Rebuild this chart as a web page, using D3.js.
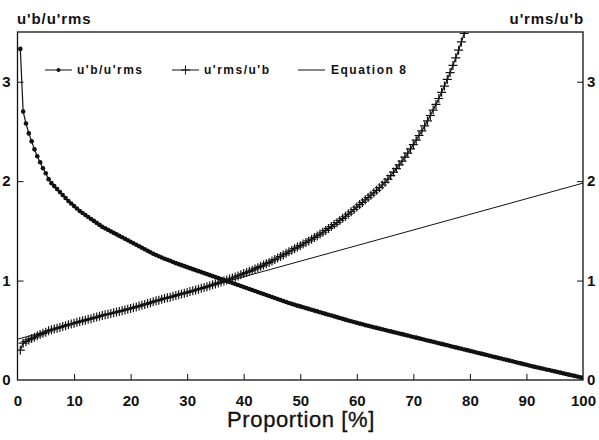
<!DOCTYPE html>
<html><head><meta charset="utf-8">
<script src="https://cdn.jsdelivr.net/npm/d3@7"></script>
<style>
body{margin:0;background:#fff}
svg{display:block}
text{font-family:"Liberation Sans",Arial,Helvetica,sans-serif;fill:#111}
</style>
</head><body>
<svg id="chart" width="599" height="440"></svg>
<script>
// ---- data ----
const proportion = [0.5,1,1.5,2,2.5,3,3.5,4,4.5,5,5.5,6,6.5,7,7.5,8,8.5,9,9.5,10,
10.5,11,11.5,12,12.5,13,13.5,14,14.5,15,15.5,16,16.5,17,17.5,18,18.5,19,19.5,20,
20.5,21,21.5,22,22.5,23,23.5,24,24.5,25,25.5,26,26.5,27,27.5,28,28.5,29,29.5,30,
30.5,31,31.5,32,32.5,33,33.5,34,34.5,35,35.5,36,36.5,37,37.5,38,38.5,39,39.5,40,
40.5,41,41.5,42,42.5,43,43.5,44,44.5,45,45.5,46,46.5,47,47.5,48,48.5,49,49.5,50,
50.5,51,51.5,52,52.5,53,53.5,54,54.5,55,55.5,56,56.5,57,57.5,58,58.5,59,59.5,60,
60.5,61,61.5,62,62.5,63,63.5,64,64.5,65,65.5,66,66.5,67,67.5,68,68.5,69,69.5,70,
70.5,71,71.5,72,72.5,73,73.5,74,74.5,75,75.5,76,76.5,77,77.5,78,78.5,79,79.5,80,
80.5,81,81.5,82,82.5,83,83.5,84,84.5,85,85.5,86,86.5,87,87.5,88,88.5,89,89.5,90,
90.5,91,91.5,92,92.5,93,93.5,94,94.5,95,95.5,96,96.5,97,97.5,98,98.5,99,99.5,100];

// u'b/u'rms
const ubOverUrms = [3.33,2.70,2.58,2.48,2.40,2.32,2.25,2.19,2.13,2.08,2.02,1.98,1.95,1.92,1.89,1.86,1.83,1.80,1.775,1.75,
1.725,1.70,1.68,1.66,1.64,1.62,1.60,1.58,1.56,1.54,1.525,1.51,1.495,1.48,1.465,1.45,1.435,1.42,1.405,1.39,
1.375,1.36,1.345,1.33,1.315,1.30,1.285,1.27,1.257,1.245,1.232,1.22,1.21,1.20,1.187,1.175,1.165,1.155,1.145,1.135,
1.125,1.115,1.105,1.095,1.085,1.075,1.065,1.055,1.045,1.035,1.025,1.015,1.005,0.995,0.985,0.975,0.965,0.955,0.945,0.935,
0.925,0.915,0.905,0.895,0.885,0.875,0.865,0.855,0.845,0.835,0.825,0.815,0.805,0.795,0.785,0.775,0.766,0.757,0.748,0.740,
0.731,0.723,0.715,0.706,0.698,0.690,0.681,0.673,0.665,0.656,0.648,0.640,0.632,0.623,0.615,0.607,0.599,0.591,0.583,0.575,
0.567,0.560,0.552,0.545,0.538,0.531,0.524,0.517,0.510,0.503,0.496,0.489,0.482,0.475,0.468,0.461,0.454,0.447,0.440,0.433,
0.426,0.419,0.412,0.405,0.398,0.391,0.384,0.377,0.370,0.363,0.356,0.349,0.342,0.335,0.328,0.321,0.314,0.307,0.300,0.293,
0.286,0.279,0.272,0.265,0.258,0.251,0.244,0.237,0.230,0.223,0.216,0.209,0.202,0.195,0.188,0.181,0.174,0.167,0.160,0.153,
0.146,0.139,0.132,0.126,0.119,0.113,0.106,0.100,0.093,0.087,0.080,0.074,0.067,0.061,0.054,0.048,0.041,0.035,0.028,0.022];

// u'rms/u'b (last points run past the frame top and are clipped)
const urmsOverUb = [0.30,0.37,0.388,0.403,0.417,0.431,0.444,0.457,0.469,0.481,0.495,0.505,0.513,0.521,0.529,0.538,0.546,0.556,0.563,0.571,
0.580,0.588,0.595,0.602,0.610,0.617,0.625,0.633,0.641,0.649,0.656,0.662,0.669,0.676,0.683,0.690,0.697,0.704,0.712,0.719,
0.727,0.735,0.743,0.752,0.760,0.769,0.778,0.787,0.796,0.803,0.812,0.820,0.826,0.833,0.842,0.851,0.858,0.866,0.873,0.881,
0.889,0.897,0.905,0.913,0.922,0.930,0.939,0.948,0.957,0.966,0.976,0.985,0.995,1.005,1.015,1.026,1.036,1.047,1.058,1.070,
1.081,1.093,1.105,1.117,1.130,1.143,1.156,1.170,1.183,1.198,1.212,1.227,1.242,1.258,1.274,1.290,1.305,1.321,1.337,1.351,
1.368,1.383,1.399,1.416,1.433,1.449,1.468,1.486,1.504,1.524,1.543,1.563,1.582,1.605,1.626,1.647,1.669,1.692,1.715,1.739,
1.764,1.786,1.812,1.835,1.859,1.883,1.908,1.934,1.961,1.988,2.021,2.055,2.091,2.126,2.164,2.202,2.242,2.282,2.324,2.367,
2.412,2.459,2.506,2.555,2.607,2.660,2.715,2.772,2.831,2.893,2.956,3.023,3.092,3.164,3.240,3.317,3.400,3.485,3.575];

// Equation 8 (straight line)
const equation8X = [0, 100];
const equation8Y = [0.41, 1.98];

const xTicks = [0,10,20,30,40,50,60,70,80,90,100];
const yTicks = [0,1,2,3];

const leftTitle = "u'b/u'rms";
const rightTitle = "u'rms/u'b";
const xTitle = "Proportion [%]";
const legendLabels = ["u'b/u'rms", "u'rms/u'b", "Equation 8"];

// ---- chart ----
const svg = d3.select("#chart");
const L = 17.5, R = 583, T = 32, B = 380;
const x = d3.scaleLinear().domain([0,100]).range([L,R]);
const y = d3.scaleLinear().domain([0,3.5]).range([B,T]);
const ink = "#111";

svg.append("defs").append("clipPath").attr("id","clip")
  .append("rect").attr("x",L).attr("y",T).attr("width",R-L).attr("height",B-T);

// axes (ticks inward)
const fmt = d3.format("d");
const gx = svg.append("g").attr("transform",`translate(0,${B})`)
  .call(d3.axisBottom(x).tickValues(xTicks).tickSize(-6).tickPadding(15).tickFormat(fmt));
const gl = svg.append("g").attr("transform",`translate(${L},0)`)
  .call(d3.axisLeft(y).tickValues(yTicks).tickSize(-6).tickPadding(7).tickFormat(fmt));
const gr = svg.append("g").attr("transform",`translate(${R},0)`)
  .call(d3.axisRight(y).tickValues(yTicks).tickSize(-6).tickPadding(4).tickFormat(fmt));
[gx,gl,gr].forEach(g=>{
  g.select(".domain").remove();
  g.selectAll(".tick line").attr("stroke",ink).attr("stroke-width",1);
  g.selectAll(".tick text").attr("font-size",15).attr("font-weight","bold")
    .attr("fill",ink).style("font-family",'"Liberation Sans",Arial,sans-serif');
});
gx.selectAll(".tick").filter(d=>d===0||d===100).select("line").remove();
gl.selectAll(".tick").filter(d=>d===0).select("line").remove();
gr.selectAll(".tick").filter(d=>d===0).select("line").remove();

// frame
svg.append("rect").attr("x",L).attr("y",T).attr("width",R-L).attr("height",B-T)
  .attr("fill","none").attr("stroke",ink).attr("stroke-width",1.3);

// titles
svg.append("text").attr("x",17).attr("y",24).attr("font-size",15).attr("font-weight","bold")
  .attr("letter-spacing",0.9).text(leftTitle);
svg.append("text").attr("x",584).attr("y",24).attr("text-anchor","end").attr("font-size",15)
  .attr("font-weight","bold").attr("letter-spacing",0.9).text(rightTitle);
svg.append("text").attr("x",301).attr("y",427).attr("text-anchor","middle").attr("font-size",22)
  .attr("letter-spacing",0.6).attr("stroke",ink).attr("stroke-width",0.3).text(xTitle);

const plot = svg.append("g").attr("clip-path","url(#clip)");

// Equation 8
const eqData = equation8X.map((v,i)=>[v,equation8Y[i]]);
plot.append("path").datum(eqData)
  .attr("d",d3.line().x(d=>x(d[0])).y(d=>y(d[1])))
  .attr("fill","none").attr("stroke",ink).attr("stroke-width",1);

// u'rms/u'b
const s2 = urmsOverUb.map((v,i)=>[proportion[i],v]);
plot.append("path").datum(s2)
  .attr("d",d3.line().x(d=>x(d[0])).y(d=>y(d[1])))
  .attr("fill","none").attr("stroke",ink).attr("stroke-width",1.2);
const plus = "M-4.5,0H4.5M0,-4.5V4.5";
plot.append("g").selectAll("path").data(s2).join("path")
  .attr("transform",d=>`translate(${x(d[0])},${y(d[1])})`)
  .attr("d",plus).attr("stroke",ink).attr("stroke-width",1.2).attr("fill","none");

// u'b/u'rms
const s1 = ubOverUrms.map((v,i)=>[proportion[i],v]);
plot.append("path").datum(s1)
  .attr("d",d3.line().x(d=>x(d[0])).y(d=>y(d[1])))
  .attr("fill","none").attr("stroke",ink).attr("stroke-width",1.2);
plot.append("g").selectAll("circle").data(s1).join("circle")
  .attr("cx",d=>x(d[0])).attr("cy",d=>y(d[1])).attr("r",2.3).attr("fill",ink);

// legend
const lg = svg.append("g");
const ly = 70;
const items = [{x0:45,x1:72,tx:77,m:"dot"},{x0:172,x1:199,tx:204,m:"plus"},{x0:298,x1:325,tx:331,m:null}];
items.forEach((it,i)=>{
  lg.append("line").attr("x1",it.x0).attr("x2",it.x1).attr("y1",ly).attr("y2",ly)
    .attr("stroke",ink).attr("stroke-width",1);
  const cx=(it.x0+it.x1)/2;
  if(it.m==="dot") lg.append("circle").attr("cx",cx).attr("cy",ly).attr("r",2).attr("fill",ink);
  if(it.m==="plus") lg.append("path").attr("transform",`translate(${cx},${ly})`).attr("d",plus)
    .attr("stroke",ink).attr("stroke-width",1);
  lg.append("text").attr("x",it.tx).attr("y",ly+4).attr("font-size",12).attr("font-weight","bold")
    .attr("letter-spacing",1.5).text(legendLabels[i]);
});
</script>
</body></html>
